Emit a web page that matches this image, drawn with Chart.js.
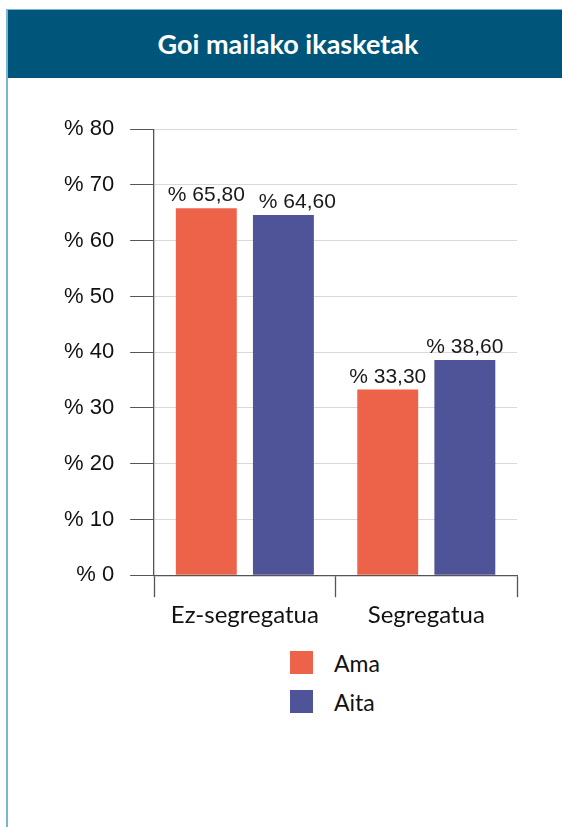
<!DOCTYPE html>
<html lang="eu">
<head>
    <meta charset="UTF-8">
    <title>Goi mailako ikasketak</title>
    <script src="https://cdn.jsdelivr.net/npm/chart.js"></script>
    <style>
        body { margin: 0; background: #fff; width: 562px; height: 827px; overflow: hidden; position: relative; }
        .frame { position: absolute; left: 6px; top: 9px; width: 560px; height: 830px;
                 border-left: 2px solid #7ab6d4; border-top: 1px solid #7ab6d4; }
        .header { position: absolute; left: 0; top: 0; right: 0; height: 68px; background: #00567a;
                  color: #fff; font: bold 27px Lato, sans-serif; text-align: center; line-height: 68px; }
        #chartBox { position: absolute; left: 20px; top: 100px; width: 520px; height: 540px; }
        #legend { position: absolute; left: 290px; top: 651px; font: 23px Lato, sans-serif; color: #111; }
        .legend-item { display: flex; align-items: center; height: 23px; margin-bottom: 16px; }
        .legend-box { width: 23px; height: 23px; margin-right: 21px; }
    </style>
</head>
<body>
    <div class="frame">
        <div class="header">Goi mailako ikasketak</div>
    </div>
    <div id="chartBox"><canvas id="chart"></canvas></div>
    <div id="legend"></div>
    <script>
        const categories = ['Ez-segregatua', 'Segregatua'];
        const seriesNames = ['Ama', 'Aita'];
        const amaValues = [65.8, 33.3];
        const aitaValues = [64.6, 38.6];
        const yTicks = [0, 10, 20, 30, 40, 50, 60, 70, 80];

        const colors = ['#ec634a', '#4f5397'];

        function formatPct(v) {
            return '% ' + v.toFixed(2).replace('.', ',');
        }

        // labels above each bar, nudged right when they would run into the previous one
        const barLabels = {
            id: 'barLabels',
            afterDatasetsDraw(chart) {
                const ctx = chart.ctx;
                ctx.save();
                ctx.font = '21px "Liberation Sans", Arial, sans-serif';
                ctx.fillStyle = '#1a1a1a';
                ctx.textAlign = 'left';
                ctx.textBaseline = 'alphabetic';
                chart.data.labels.forEach((cat, j) => {
                    let prev = null;
                    chart.data.datasets.forEach((ds, i) => {
                        const bar = chart.getDatasetMeta(i).data[j];
                        const text = formatPct(ds.data[j]);
                        const w = ctx.measureText(text).width;
                        const y = bar.y - 7;
                        let left = bar.x - w / 2;
                        if (prev && Math.abs(prev.y - y) < 22 && left < prev.right + 14) {
                            left = prev.right + 14;
                        }
                        ctx.fillText(text, left, y);
                        prev = { right: left + w, y: y };
                    });
                });
                ctx.restore();
            }
        };

        // vertical html legend
        const htmlLegend = {
            id: 'htmlLegend',
            afterUpdate(chart) {
                const box = document.getElementById('legend');
                box.innerHTML = '';
                const items = chart.options.plugins.legend.labels.generateLabels(chart);
                items.forEach(item => {
                    const row = document.createElement('div');
                    row.className = 'legend-item';
                    row.innerHTML = '<span class="legend-box" style="background:' + item.fillStyle + '"></span>' + item.text;
                    box.appendChild(row);
                });
            }
        };

        const ctx = document.getElementById('chart').getContext('2d');
        new Chart(ctx, {
            type: 'bar',
            data: {
                labels: categories,
                datasets: [
                    { label: seriesNames[0], data: amaValues, backgroundColor: colors[0] },
                    { label: seriesNames[1], data: aitaValues, backgroundColor: colors[1] }
                ]
            },
            options: {
                responsive: true,
                maintainAspectRatio: false,
                animation: false,
                categoryPercentage: 0.85,
                barPercentage: 0.79,
                layout: { padding: { left: 28, right: 23, top: 23, bottom: 6 } },
                plugins: {
                    legend: { display: false },
                    tooltip: { enabled: false }
                },
                scales: {
                    x: {
                        grid: {
                            offset: true,
                            drawOnChartArea: false,
                            drawTicks: true,
                            tickLength: 22,
                            tickColor: '#555',
                            tickWidth: 1.3
                        },
                        border: { color: '#555', width: 1.3 },
                        ticks: {
                            color: '#111',
                            padding: 4,
                            font: { family: 'Lato', size: 24 }
                        }
                    },
                    y: {
                        min: 0,
                        max: 80,
                        afterBuildTicks: axis => { axis.ticks = yTicks.map(v => ({ value: v })); },
                        grid: {
                            color: '#d9d9d9',
                            tickColor: '#555',
                            tickLength: 24,
                            lineWidth: 1
                        },
                        border: { color: '#555', width: 1.3 },
                        ticks: {
                            color: '#111',
                            padding: 16,
                            font: { family: '"Liberation Sans", Arial, sans-serif', size: 22 },
                            callback: v => '% ' + v
                        }
                    }
                }
            },
            plugins: [barLabels, htmlLegend]
        });
    </script>
</body>
</html>
